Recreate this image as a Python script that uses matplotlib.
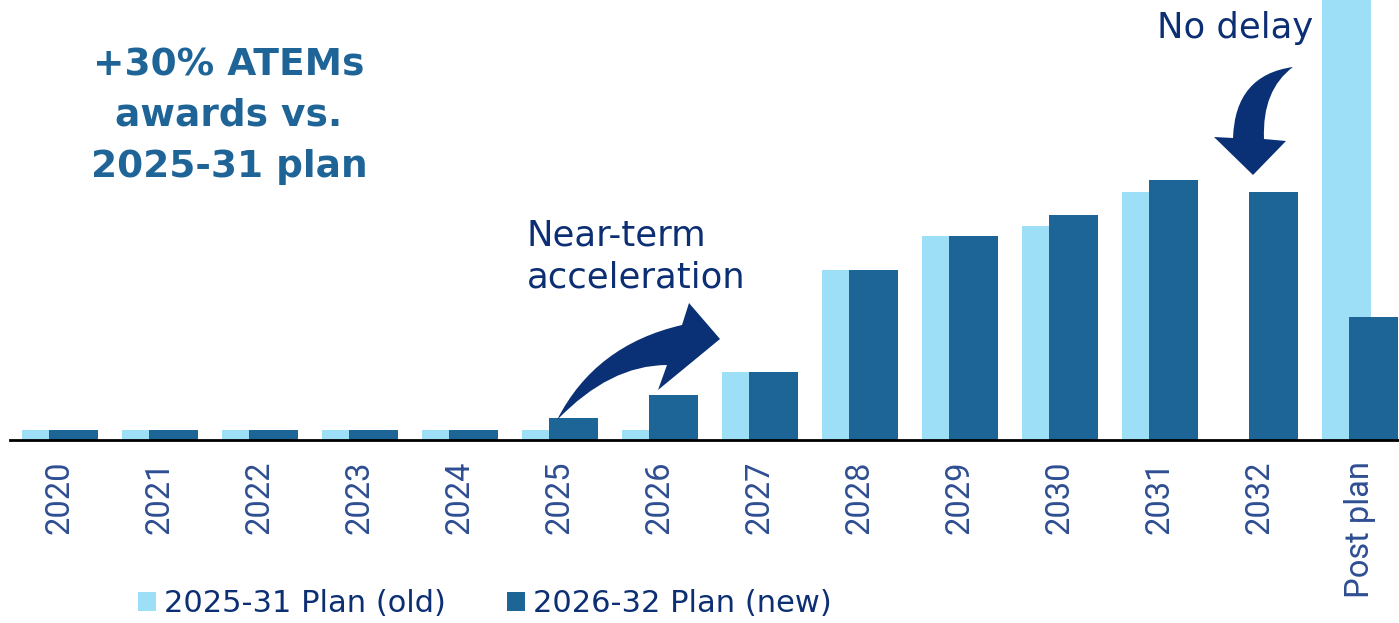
import matplotlib.pyplot as plt
from matplotlib.path import Path
from matplotlib.patches import PathPatch, Patch
from matplotlib.transforms import Affine2D
import numpy as np

# Data (bar heights, arbitrary units)
categories = ['2020', '2021', '2022', '2023', '2024', '2025', '2026',
              '2027', '2028', '2029', '2030', '2031', '2032', 'Post plan']
old_plan = [10, 10, 10, 10, 10, 10, 10, 68, 170, 204, 214, 248, 0, 470]
new_plan = [10, 10, 10, 10, 10, 22, 45, 68, 170, 204, 225, 260, 248, 123]

light = '#9DDFF7'
dark = '#1D6497'
navy = '#0C2F74'
tick_col = '#2E4E92'

W, H = 1399, 623
fig = plt.figure(figsize=(W / 100, H / 100), dpi=100)
ax = fig.add_axes([10 / W, 1 - 440 / H, 1389 / W, 440 / H])

x = np.arange(len(categories))
ax.bar(x - 0.135, old_plan, width=0.49, color=light, zorder=2)
ax.bar(x + 0.135, new_plan, width=0.49, color=dark, zorder=3)

ax.set_xlim(-0.5, 13.39)
ax.set_ylim(0, 440)
ax.set_xticks(x)
ax.set_xticklabels(categories, rotation=90, family='Roboto', fontsize=23.5,
                   color=tick_col, va='top', ha='center')
ax.tick_params(axis='x', length=0, pad=15)
ax.set_yticks([])
for s in ['top', 'right', 'left']:
    ax.spines[s].set_visible(False)
ax.spines['bottom'].set_linewidth(2)
ax.spines['bottom'].set_color('black')
ax.spines['bottom'].set_zorder(5)

# pixel coords (y down) -> figure
px = Affine2D().scale(1 / W, -1 / H).translate(0, 1) + fig.transFigure

# headline
for txt, yb in [('+30% ATEMs', 75), ('awards vs.', 126), ('2025-31 plan', 177)]:
    fig.text(229, yb, txt, transform=px, ha='center', va='baseline',
             fontsize=27, fontweight='bold', color='#1F6497', family='DejaVu Sans')

# annotations
fig.text(527, 245, 'Near-term', transform=px, ha='left', va='baseline',
         fontsize=25.5, color=navy, family='DejaVu Sans')
fig.text(527, 288, 'acceleration', transform=px, ha='left', va='baseline',
         fontsize=25.5, color=navy, family='DejaVu Sans')
fig.text(1157, 38, 'No delay', transform=px, ha='left', va='baseline',
         fontsize=25.5, color=navy, family='DejaVu Sans')

# curved arrows
C, L, M = Path.CURVE3, Path.LINETO, Path.MOVETO
arrow1 = Path([(557, 420), (595, 345), (682, 325), (689, 303), (720, 339),
               (658, 390), (667, 365), (610, 365), (557, 420), (557, 420)],
              [M, C, C, L, L, L, L, C, C, Path.CLOSEPOLY])
arrow2 = Path([(1293, 67), (1235, 75), (1233, 138), (1214, 137), (1253, 175),
               (1286, 141), (1264, 139), (1262, 90), (1293, 67), (1293, 67)],
              [M, C, C, L, L, L, L, C, C, Path.CLOSEPOLY])
for p in (arrow1, arrow2):
    fig.patches.append(PathPatch(p, transform=px, facecolor='#0A3176',
                                 edgecolor='none', zorder=6))

# legend
handles = [Patch(facecolor=light), Patch(facecolor=dark)]
fig.legend(handles, ['2025-31 Plan (old)', '2026-32 Plan (new)'],
           loc='center', bbox_to_anchor=(485 / W, 1 - 604 / H), ncol=2,
           frameon=False, prop={'family': 'DejaVu Sans', 'size': 22},
           labelcolor=navy, handlelength=0.6, handleheight=0.6,
           handletextpad=0.25, columnspacing=2.0)

fig.savefig('out.png', dpi=100)
